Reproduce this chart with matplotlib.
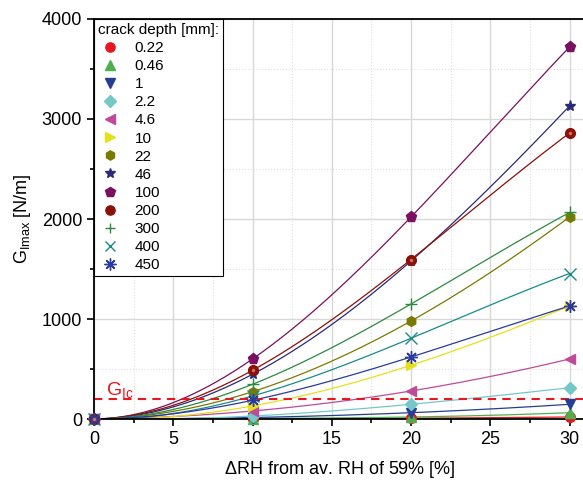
import numpy as np
import matplotlib.pyplot as plt

plt.rcParams['font.family'] = ['Liberation Sans', 'DejaVu Sans']
plt.rcParams['mathtext.fontset'] = 'custom'
plt.rcParams['mathtext.rm'] = 'Liberation Sans'
plt.rcParams['mathtext.it'] = 'Liberation Sans:italic'

drh = [0, 10, 20, 30]
depths = ['0.22', '0.46', '1', '2.2', '4.6', '10', '22', '46', '100', '200', '300', '400', '450']
G = {
    '0.22': [0, 2, 8, 20],
    '0.46': [0, 5, 20, 63],
    '1':    [0, 15, 63, 147],
    '2.2':  [0, 30, 147, 313],
    '4.6':  [0, 80, 280, 600],
    '10':   [0, 130, 537, 1130],
    '22':   [0, 273, 980, 2020],
    '46':   [0, 447, 1580, 3130],
    '100':  [0, 600, 2020, 3720],
    '200':  [0, 487, 1595, 2860],
    '300':  [0, 347, 1150, 2065],
    '400':  [0, 230, 807, 1455],
    '450':  [0, 187, 620, 1130],
}
G_Ic = 200

colors = ['#e8161e', '#4cb050', '#253f94', '#75c8c8', '#c04a9a', '#e6e01c', '#7a7a00',
          '#2c2a7a', '#7a1060', '#8a1008', '#2a8a40', '#1a8a8a', '#2a3aa0']
markers = ['o', '^', 'v', 'D', '<', '>', 'h', '*', 'p', 'o', '+', 'x', (8, 2, 0)]
msizes = [7, 7, 7, 6, 7, 7, 7, 8, 8, 7, 8, 8, 9]

fig = plt.figure(figsize=(5.83, 4.84), dpi=100)
ax = fig.add_axes([94/583, 65/484, 491.35/583, 400/484])

xs = np.linspace(0, 30, 200)
for d, c, m, ms in zip(depths, colors, markers, msizes):
    y = G[d]
    p = np.polyfit(drh, y, 3)
    ax.plot(xs, np.polyval(p, xs), color=c, lw=0.9, zorder=2)
    ax.plot(drh, y, ls='none', marker=m, ms=ms, color=c, mec=c, mew=1.0,
            clip_on=False, zorder=3, label=d)
    if d == '200':
        ax.plot(drh, y, ls='none', marker='o', ms=2.5, color='#d07060', mew=0,
                clip_on=False, zorder=4)

ax.axhline(G_Ic, color='#e8161e', ls=(0, (4, 3)), lw=1.5, zorder=2)
ax.text(0.75, 235, r'G$_{\mathrm{Ic}}$', color='#e8161e', fontsize=14)

ax.set_xlim(0, 31)
ax.set_ylim(0, 4000)
ax.set_xticks(np.arange(0, 31, 5))
ax.set_xticks(np.arange(2.5, 31, 5), minor=True)
ax.set_yticks(np.arange(0, 4001, 1000))
ax.set_yticks(np.arange(500, 4000, 1000), minor=True)
ax.grid(which='major', color='#d8d8d8', lw=1)
ax.grid(which='minor', color='#e0e0e0', lw=0.8, ls=':')
ax.set_axisbelow(True)
ax.tick_params(which='both', direction='out', labelsize=13, width=1.2)
ax.tick_params(which='major', length=5)
ax.tick_params(which='minor', length=3)
for s in ax.spines.values():
    s.set_linewidth(1.3)

ax.set_xlabel(r'$\Delta$RH from av. RH of 59% [%]', fontsize=13, labelpad=8)
ax.set_ylabel(r'G$_{\mathrm{Imax}}$ [N/m]', fontsize=13, labelpad=6)

leg = ax.legend(title='crack depth [mm]:', loc='upper left', bbox_to_anchor=(0, 1),
                borderaxespad=0, fontsize=11, title_fontsize=11, fancybox=False,
                edgecolor='black', framealpha=1, labelspacing=0.27, handletextpad=0.8,
                borderpad=0.25, handlelength=1.6, markerscale=0.95)
leg._legend_box.align = 'left'
leg.get_frame().set_linewidth(0.8)
leg.set_zorder(5)

fig.savefig('out.png', dpi=100)
